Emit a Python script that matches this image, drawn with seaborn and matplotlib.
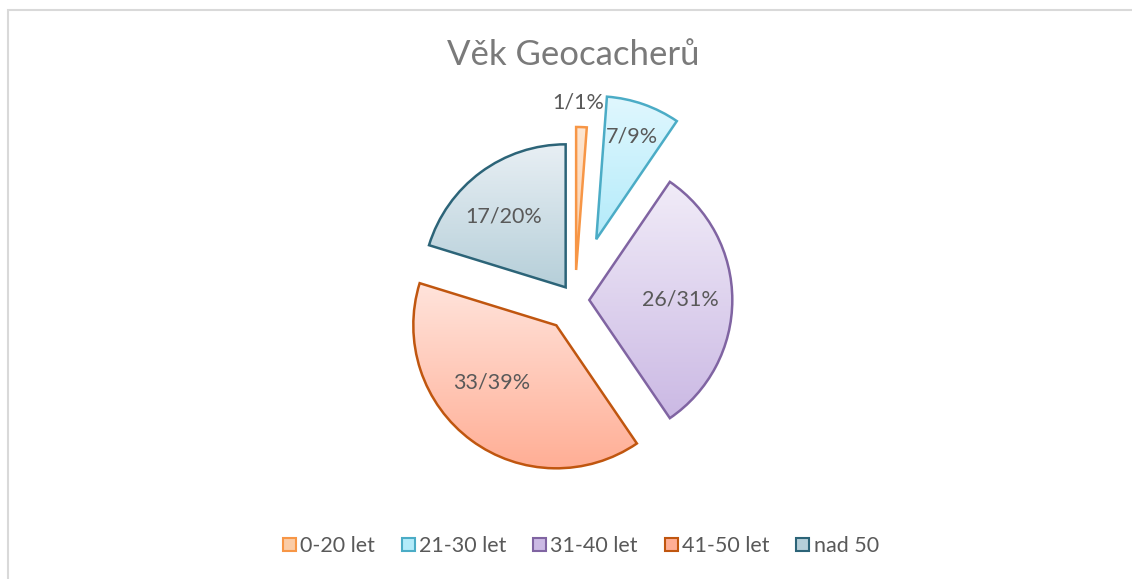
"""
Věk Geocacherů - exploded pie chart with gradient slices.
"""

import numpy as np
import matplotlib
matplotlib.use("Agg")
import matplotlib.pyplot as plt
import seaborn as sns
from matplotlib.patches import Patch, Rectangle
from matplotlib.colors import to_rgb


# ── Data ──────────────────────────────────────────────────────────────────────
categories = ["0-20 let", "21-30 let", "31-40 let", "41-50 let", "nad 50"]
counts     = [1, 7, 26, 33, 17]
percents   = [1, 9, 31, 39, 20]

# ── Styling ───────────────────────────────────────────────────────────────────
edge_colors   = ["#F79646", "#4BACC6", "#8064A2", "#C0560F", "#2C6478"]
top_colors    = ["#FDE6D2", "#E0F7FE", "#F1ECF8", "#FFE4DC", "#E8EFF4"]
bottom_colors = ["#FBCCA6", "#B3EBFA", "#CBB9E4", "#FFAE95", "#B6CFD9"]
explode_frac  = [0.21, 0.45, 0.10, 0.22, 0.11]
label_dist    = [1.17, 0.76, 0.64, 0.60, 0.66]
label_turn    = [1.5, 0, 0, -12, 5]      # degrees, nudges Excel-like placement

TEXT_GREY  = "#595959"
TITLE_GREY = "#7A7A7A"

sns.set_theme(style="white")
plt.rcParams["font.family"] = ["Lato", "DejaVu Sans"]

W, H = 1132, 579
fig = plt.figure(figsize=(W / 100, H / 100), dpi=100)
ax = fig.add_axes([0, 0, 1, 1])

cx, cy, r = 575, H - 300, 143

wedges, _ = ax.pie(
    counts,
    explode=[e * r for e in explode_frac],
    startangle=90,
    counterclock=False,
    center=(cx, cy),
    radius=r,
    wedgeprops=dict(linewidth=1.8, joinstyle="miter"),
)

# ── Gradient fills + outlines ─────────────────────────────────────────────────
for w, ec, c_top, c_bot in zip(wedges, edge_colors, top_colors, bottom_colors):
    bb = w.get_path().get_extents()
    t = np.linspace(0, 1, 256)[:, None]
    grad = (1 - t) * np.array(to_rgb(c_top)) + t * np.array(to_rgb(c_bot))
    img = ax.imshow(
        grad[:, None, :],
        extent=(bb.x0, bb.x1, bb.y0, bb.y1),
        origin="upper", aspect="auto", zorder=1,
    )
    img.set_clip_path(w)
    w.set_facecolor("none")
    w.set_edgecolor(ec)
    w.set_zorder(2)

# ── Data labels ───────────────────────────────────────────────────────────────
for w, n, p, d, turn in zip(wedges, counts, percents, label_dist, label_turn):
    ang = np.deg2rad((w.theta1 + w.theta2) / 2 + turn)
    x = w.center[0] + d * r * np.cos(ang)
    y = w.center[1] + d * r * np.sin(ang)
    ax.text(x, y, f"{n}/{p}%", ha="center", va="center",
            fontsize=15.5, color=TEXT_GREY, zorder=3)

# ── Title ─────────────────────────────────────────────────────────────────────
ax.text(573, H - 55, "Věk Geocacherů", ha="center", va="center",
        fontsize=25, color=TITLE_GREY)

# ── Legend ────────────────────────────────────────────────────────────────────
handles = [
    Patch(facecolor=tc, edgecolor=ec, linewidth=1.5)
    for tc, ec in zip(bottom_colors, edge_colors)
]
ax.legend(
    handles, categories,
    loc="center", bbox_to_anchor=(0.513, 1 - 546 / H),
    ncol=5, frameon=False, fontsize=15.5,
    handlelength=0.6, handleheight=0.6, handletextpad=0.2,
    columnspacing=1.25, labelcolor=TEXT_GREY,
)

# ── Chart-area border (only top/left edge visible) ───────────────────────────
ax.add_patch(Rectangle((8, -20), W + 20, H - 10 + 20, fill=False,
                       edgecolor="#D9D9D9", linewidth=1.5, zorder=0))

ax.set_xlim(0, W)
ax.set_ylim(0, H)
ax.set_aspect("auto")
ax.axis("off")

fig.savefig("out.png", dpi=100, facecolor="white")
